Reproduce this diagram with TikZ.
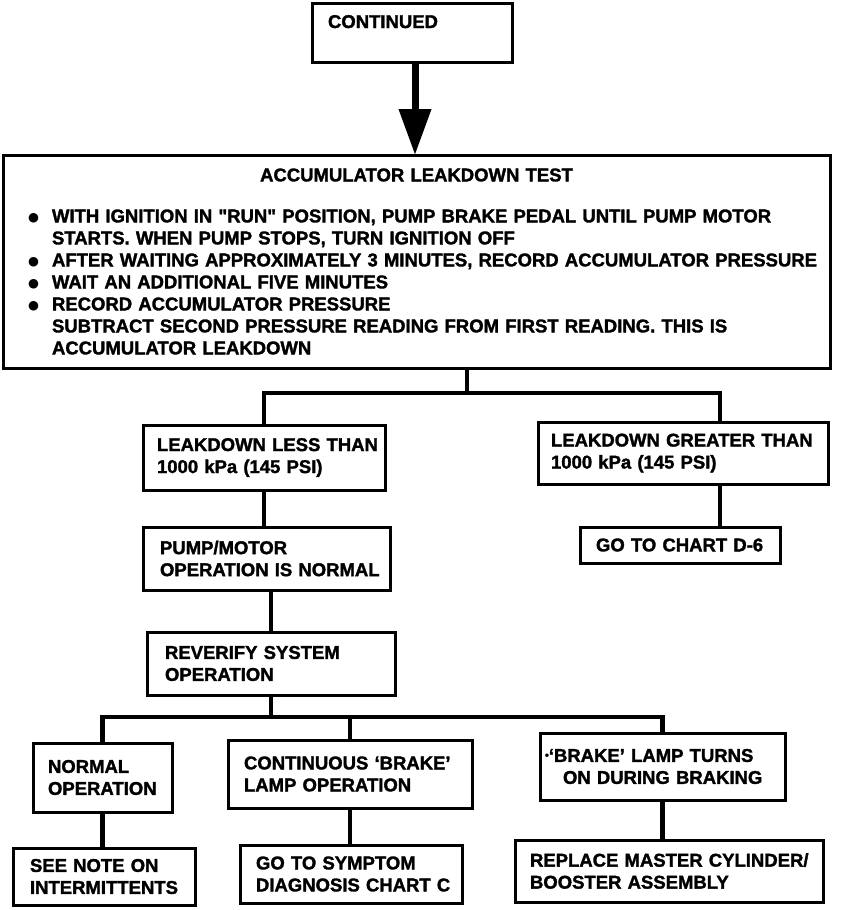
\documentclass[tikz,border=0pt]{standalone}
\usepackage{fontspec}
\usepackage{graphicx}
\setmainfont{Liberation Sans}[BoldFeatures={FakeBold=1.6}]
\newfontfamily\dejavu{DejaVu Sans}
\usetikzlibrary{arrows.meta,calc}
\newcommand\bul{\makebox[24pt][l]{\raisebox{0.5pt}{\dejavu\fontsize{12.5}{12.5}\selectfont ●}}}
\begin{document}
\begin{tikzpicture}[x=1pt,y=-1pt,
  box/.style={draw, line width=3pt, anchor=north west, outer sep=0pt, inner ysep=0pt,
    align=left, font=\fontsize{18.5}{22}\selectfont\bfseries},
  conn/.style={line width=4.4pt}]
\useasboundingbox (0,0) rectangle (864,910);
\fill[white] (0,0) rectangle (864,910);

\node[box, minimum width=200pt, minimum height=59pt, inner xsep=16pt, text width=168pt,
  text height=25pt, text depth=34pt] (C) at (312,3) {CONTINUED};

\node[box, minimum width=827pt, minimum height=213pt, inner xsep=25pt, text width=777pt] (T) at (3,155)
{\makebox[777pt][c]{ACCUMULATOR LEAKDOWN TEST}\\[19pt]
\bul\mbox{WITH IGNITION IN \textquotedbl RUN\textquotedbl\ POSITION, PUMP BRAKE PEDAL UNTIL PUMP MOTOR}\\
\hspace*{24pt}\mbox{STARTS. WHEN PUMP STOPS, TURN IGNITION OFF}\\
\bul\mbox{AFTER WAITING APPROXIMATELY 3 MINUTES, RECORD ACCUMULATOR PRESSURE}\\
\bul\mbox{WAIT AN ADDITIONAL FIVE MINUTES}\\
\bul\mbox{RECORD ACCUMULATOR PRESSURE}\\
\hspace*{24pt}\mbox{SUBTRACT SECOND PRESSURE READING FROM FIRST READING. THIS IS}\\
\hspace*{24pt}\mbox{ACCUMULATOR LEAKDOWN}};

\node[box, minimum width=242pt, minimum height=65pt, inner xsep=14pt, text width=214pt] (LL) at (143,425)
{\mbox{LEAKDOWN LESS THAN}\\\mbox{1000 kPa (145 PSI)}};
\node[box, minimum width=290pt, minimum height=62pt, inner xsep=13pt, text width=264pt] (LG) at (538,422)
{\mbox{LEAKDOWN GREATER THAN}\\\mbox{1000 kPa (145 PSI)}};
\node[box, minimum width=200pt, minimum height=36pt, inner xsep=16pt, text width=168pt] (D6) at (580,527)
{\mbox{GO TO CHART D-6}};
\node[box, minimum width=247pt, minimum height=63pt, inner xsep=17pt, text width=213pt] (PM) at (143,527)
{\mbox{PUMP/MOTOR}\\\mbox{OPERATION IS NORMAL}};
\node[box, minimum width=248pt, minimum height=63pt, inner xsep=18pt, text width=212pt] (RV) at (147,632)
{\mbox{REVERIFY SYSTEM}\\\mbox{OPERATION}};
\node[box, minimum width=139pt, minimum height=69pt, inner xsep=15pt, text width=109pt] (NO) at (33,743)
{\mbox{NORMAL}\\\mbox{OPERATION}};
\node[box, minimum width=244pt, minimum height=68pt, inner xsep=16pt, text width=212pt] (CB) at (228,740)
{\mbox{CONTINUOUS ‘BRAKE’}\\\mbox{LAMP OPERATION}};
\node[box, minimum width=245pt, minimum height=67pt, inner xsep=5pt, text width=235pt] (BL) at (540,733)
{\mbox{\raisebox{3pt}[0pt][0pt]{\fontsize{11}{11}\selectfont •}‘BRAKE’ LAMP TURNS}\\\hspace*{18pt}\mbox{ON DURING BRAKING}};
\node[box, minimum width=182pt, minimum height=57pt, inner xsep=17pt, text width=148pt] (SN) at (13,848)
{\mbox{SEE NOTE ON}\\\mbox{INTERMITTENTS}};
\node[box, minimum width=222pt, minimum height=58pt, inner xsep=16pt, text width=190pt] (GS) at (240,845)
{\mbox{GO TO SYMPTOM}\\\mbox{DIAGNOSIS CHART C}};
\node[box, minimum width=308pt, minimum height=62pt, inner xsep=15pt, text width=278pt] (RM) at (515,840)
{\mbox{REPLACE MASTER CYLINDER/}\\\mbox{BOOSTER ASSEMBLY}};

% connectors
\draw[line width=7pt, -{Triangle[width=31pt,length=46pt]}] ([xshift=3pt]C.south) -- ([xshift=3pt]C.south |- T.north);

\coordinate (j1) at (467,393);
\coordinate (g1) at ($(LG.south west)+(182,0)$);
\coordinate (g2) at ($(LG.north west)+(182,0)$);
\draw[conn] (T.south -| j1) -- (j1);
\draw[conn] (LL.north) |- (j1) -| (g2);
\draw[conn] (g1) -- (g1 |- D6.north);
\draw[conn] (LL.south) -- (LL.south |- PM.north);
\draw[conn] (RV.north |- PM.south) -- (RV.north);

\coordinate (j2) at (RV.south |- 0,717);
\draw[conn] (RV.south) -- (j2);
\draw[conn] (NO.north) |- (j2) -| (BL.north);
\draw[conn] (CB.north) -- (CB.north |- j2);

\draw[conn] (NO.south) -- (NO.south |- SN.north);
\draw[conn] (CB.south) -- (CB.south |- GS.north);
\draw[conn] (BL.south) -- (BL.south |- RM.north);
\end{tikzpicture}
\end{document}
